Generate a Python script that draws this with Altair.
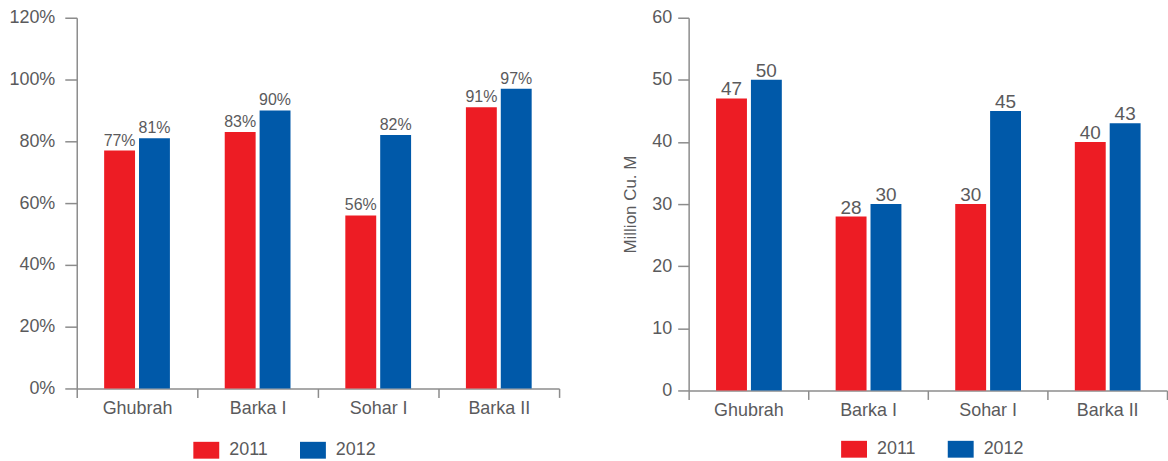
import altair as alt
import pandas as pd

# Desalination plants and the two reporting years
plants = ["Ghubrah", "Barka I", "Sohar I", "Barka II"]
years = ["2011", "2012"]

# Plant utilisation (%)
util_2011 = [77, 83, 56, 91]
util_2012 = [81, 90, 82, 97]

# Water production (million cubic metres)
prod_2011 = [47, 28, 30, 40]
prod_2012 = [50, 30, 45, 43]

RED = "#ED1C24"
BLUE = "#0059A9"
TEXT = "#5A5A5C"
AXIS = "#8C8C8C"
FONT = "Liberation Sans, Arial, sans-serif"


def long_table(v2011, v2012, suffix):
    rows = []
    for year, vals in zip(years, [v2011, v2012]):
        for plant, v in zip(plants, vals):
            rows.append({"plant": plant, "year": year, "value": v,
                         "label": f"{v}{suffix}"})
    return pd.DataFrame(rows)


util_df = long_table(util_2011, util_2012, "%")
prod_df = long_table(prod_2011, prod_2012, "")


def panel(df, width, height, y_max, y_axis, offset_pad, label_size,
          label_dy, legend_x, legend_y):
    x = alt.X(
        "plant:N", sort=plants,
        scale=alt.Scale(paddingInner=0, paddingOuter=0),
        axis=alt.Axis(title=None, labelAngle=0, tickBand="extent",
                      labelFontSize=18, labelColor=TEXT, labelFont=FONT,
                      labelPadding=2, tickSize=9, tickColor=AXIS,
                      tickWidth=1.5, domainColor=AXIS, domainWidth=1.5),
    )
    x_off = alt.XOffset("year:N", sort=years,
                        scale=alt.Scale(paddingInner=offset_pad[0],
                                        paddingOuter=offset_pad[1]))
    y = alt.Y("value:Q",
              scale=alt.Scale(domain=[0, y_max], nice=False),
              axis=y_axis)
    color = alt.Color(
        "year:N", sort=years,
        scale=alt.Scale(domain=years, range=[RED, BLUE]),
        legend=alt.Legend(
            title=None, orient="none", direction="horizontal", columns=2,
            legendX=legend_x, legendY=legend_y, padding=0,
            symbolType="M-1,-0.65H1V0.65H-1Z", symbolSize=676,
            symbolStrokeWidth=0, symbolOpacity=1,
            labelFontSize=18, labelColor=TEXT, labelFont=FONT,
            labelOffset=10, columnPadding=32,
        ),
    )
    bars = alt.Chart(df).mark_bar(opacity=1).encode(
        x=x, xOffset=x_off, y=y, color=color
    )
    labels = alt.Chart(df).mark_text(
        baseline="alphabetic", dy=label_dy, fontSize=label_size,
        color=TEXT, font=FONT
    ).encode(x=x, xOffset=x_off, y=y, text="label:N")
    return (bars + labels).properties(width=width, height=height)


left_axis = alt.Axis(
    title=None, values=list(range(0, 121, 20)),
    labelExpr="datum.value + '%'", grid=False,
    labelFontSize=18, labelColor=TEXT, labelFont=FONT, labelPadding=10,
    tickSize=12, tickColor=AXIS, tickWidth=1.5,
    domainColor=AXIS, domainWidth=1.5,
)
right_axis = alt.Axis(
    title="Million Cu. M", values=list(range(0, 61, 10)), grid=False,
    titleFontSize=17, titleFontWeight="normal", titleColor=TEXT,
    titleFont=FONT, titlePadding=12,
    labelFontSize=18, labelColor=TEXT, labelFont=FONT, labelPadding=6,
    tickSize=11, tickColor=AXIS, tickWidth=1.5,
    domainColor=AXIS, domainWidth=1.5,
)

left = panel(util_df, 484, 372, 120, left_axis, (0.114, 0.786), 16, -5,
             117, 421)
right = panel(prod_df, 480, 374, 60, right_axis, (0.147, 0.838), 19, -3,
              153, 420)

chart = (
    alt.hconcat(left, right, spacing=61)
    .resolve_scale(color="independent")
    .properties(padding={"left": 8, "top": 8, "right": 0, "bottom": 0},
                background="white")
    .configure_view(stroke=None)
)

chart.save("out.html", embed_options={"renderer": "svg", "actions": False})
